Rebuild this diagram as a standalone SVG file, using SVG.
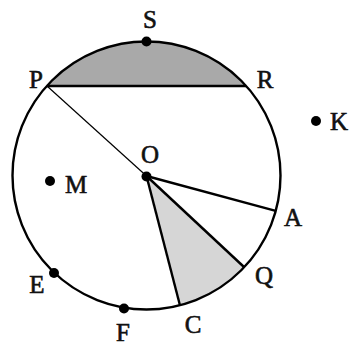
<svg xmlns="http://www.w3.org/2000/svg" width="352" height="349" viewBox="0 0 352 349">
<style>
.lbl{font-family:"Liberation Serif","Times New Roman",serif;font-size:25px;fill:#111;stroke:#111;stroke-width:0.6;text-anchor:middle}
.dot{fill:#000}
.thick{stroke:#000;stroke-width:2.4;fill:none}
.thin{stroke:#000;stroke-width:1.2;fill:none}
</style>
<rect width="352" height="349" fill="#fff"/>
<g id="shading">
<path d="M46.8,86 A134,134 0 0 1 246.2,86 Z" fill="#a9a9a9"/>
<path d="M146.5,176 L244,267 A134,134 0 0 1 180,305.5 Z" fill="#d6d6d6"/>
</g>
<g id="circle">
<circle cx="146.5" cy="175.5" r="134" class="thick" stroke-width="2.2"/>
</g>
<g id="connectors">
<line x1="46.8" y1="86" x2="246.2" y2="86" class="thick" stroke-width="2.6"/>
<line x1="47" y1="86" x2="146.5" y2="176" class="thin"/>
<line x1="146.5" y1="176" x2="275.7" y2="210.9" class="thick"/>
<line x1="146.5" y1="176" x2="244" y2="267" class="thick"/>
<line x1="146.5" y1="176" x2="180" y2="305.5" class="thick"/>
</g>
<g id="S"><circle class="dot" cx="146.5" cy="41.5" r="5"/><text class="lbl" x="150" y="28">S</text></g>
<g id="P"><text class="lbl" x="36" y="88">P</text></g>
<g id="R"><text class="lbl" x="265" y="88">R</text></g>
<g id="K"><circle class="dot" cx="316" cy="121" r="5"/><text class="lbl" x="339" y="130">K</text></g>
<g id="O"><circle class="dot" cx="146.5" cy="176.5" r="5"/><text class="lbl" x="150" y="163">O</text></g>
<g id="M"><circle class="dot" cx="50" cy="181" r="5"/><text class="lbl" x="76" y="193">M</text></g>
<g id="A"><text class="lbl" x="293" y="226">A</text></g>
<g id="Q"><text class="lbl" x="264" y="284">Q</text></g>
<g id="C"><text class="lbl" x="193" y="333">C</text></g>
<g id="F"><circle class="dot" cx="124" cy="308.5" r="5"/><text class="lbl" x="123" y="341">F</text></g>
<g id="E"><circle class="dot" cx="54" cy="273" r="5"/><text class="lbl" x="37" y="293">E</text></g>
</svg>
